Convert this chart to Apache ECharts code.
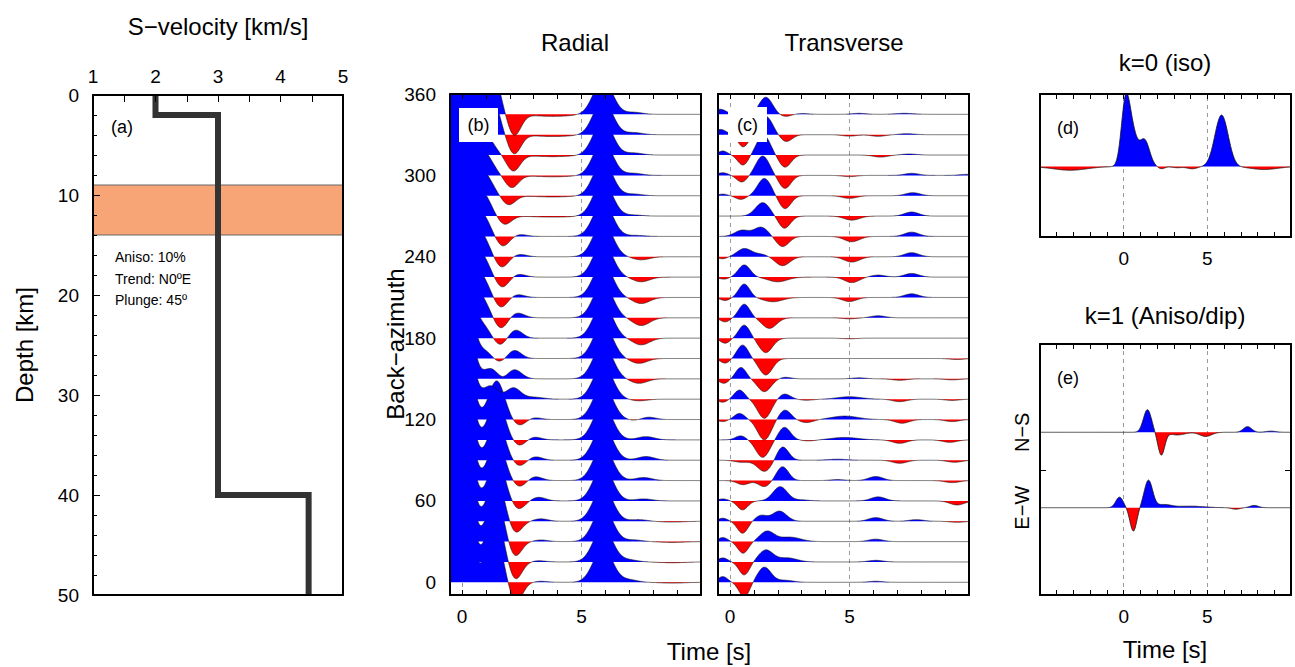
<!DOCTYPE html>
<html>
<head>
<meta charset="utf-8">
<script src="https://cdn.jsdelivr.net/npm/echarts@6.0.0/dist/echarts.min.js"></script>
<style>
html,body{margin:0;padding:0;background:#fff;}
#chart{width:1295px;height:667px;}
</style>
</head>
<body>
<div id="chart"></div>
<script>
// ================= DATA =================
// (a) S-velocity model
const layerVs = [2.0, 3.0, 4.45];
const layerTops = [0, 2, 40];
const modelBottom = 50;
const anisoLayer = [9, 14];
const anisoText = ['Aniso: 10%', 'Trend: N0ºE', 'Plunge: 45º'];

// tick labels
const depthLabels = [0, 10, 20, 30, 40, 50];
const velocityLabels = [1, 2, 3, 4, 5];
const bazLabels = [0, 60, 120, 180, 240, 300, 360];
const timeLabels = [0, 5];
const rfTimeTicks = [0, 1, 2, 3, 4, 5, 6, 7, 8, 9];
const harmTimeTicks = [-4, -3, -2, -1, 0, 1, 2, 3, 4, 5, 6, 7, 8, 9];
const componentLabels = ['E−W', 'N−S'];

// back-azimuths of the traces (deg)
const backAzimuths = [0, 15, 30, 45, 60, 75, 90, 105, 120, 135, 150, 165,
                      180, 195, 210, 225, 240, 255, 270, 285, 300, 315, 330, 345];

// picked arrivals per trace: [time (s), amplitude (trace spacings), width (s)]
const radialArrivals = [
  [[0.05,4.6,0.33],[1.35,2.5,0.33],[2.25,-1.0,0.28],[3.3,0.05,0.3],[5.9,1.7,0.4],[7.0,0.12,0.35],[8.8,-0.04,0.5]],
  [[0.05,4.6,0.33],[1.38,2.4,0.33],[2.22,-0.9,0.28],[3.2,0.06,0.3],[5.9,1.7,0.4],[7.0,0.1,0.35],[8.8,-0.04,0.5]],
  [[0.05,4.6,0.33],[1.4,2.3,0.33],[2.2,-0.78,0.28],[3.3,0.08,0.3],[5.9,1.7,0.4],[7.2,0.08,0.35],[8.8,-0.04,0.5]],
  [[0.05,4.6,0.33],[1.42,2.2,0.33],[2.22,-0.62,0.28],[3.3,0.12,0.3],[5.9,1.7,0.4],[7.4,0.08,0.35],[8.8,-0.04,0.5]],
  [[0.05,4.6,0.33],[1.45,2.1,0.33],[2.35,-0.42,0.28],[3.2,0.18,0.3],[5.9,1.7,0.4],[7.6,0.1,0.35]],
  [[0.05,4.6,0.33],[1.45,2.0,0.33],[2.4,-0.32,0.28],[3.05,0.2,0.3],[5.9,1.7,0.4],[7.6,0.15,0.35]],
  [[0.05,4.6,0.33],[1.45,2.0,0.33],[2.4,-0.3,0.28],[3.05,0.18,0.3],[5.9,1.7,0.4],[7.7,0.18,0.35]],
  [[0.05,4.6,0.33],[1.45,2.0,0.33],[2.4,-0.3,0.28],[3.0,0.15,0.3],[5.9,1.7,0.4],[7.7,0.16,0.35]],
  [[0.05,4.6,0.33],[1.45,1.9,0.33],[2.4,-0.3,0.28],[3.0,0.1,0.3],[5.9,1.7,0.4],[7.2,-0.05,0.3],[7.8,0.12,0.3]],
  [[0.05,4.6,0.33],[1.2,0.65,0.3],[2.15,0.55,0.3],[3.0,0.1,0.4],[5.9,1.7,0.4],[7.4,-0.08,0.35]],
  [[0.05,4.6,0.33],[1.2,0.5,0.3],[1.7,-0.12,0.2],[2.2,0.45,0.3],[5.9,1.7,0.4],[7.4,-0.22,0.35]],
  [[0.05,4.6,0.33],[0.95,0.35,0.3],[1.55,-0.2,0.25],[2.2,0.4,0.28],[5.9,1.7,0.4],[7.4,-0.24,0.35]],
  [[0.05,4.6,0.33],[0.85,0.6,0.3],[1.6,-0.35,0.25],[2.25,0.4,0.28],[5.9,1.7,0.4],[7.5,-0.33,0.35]],
  [[0.05,4.6,0.33],[0.82,0.9,0.33],[1.62,-0.55,0.28],[2.3,0.25,0.3],[5.9,1.7,0.4],[7.5,-0.38,0.35]],
  [[0.05,4.6,0.33],[0.82,0.95,0.33],[1.62,-0.52,0.28],[2.3,0.15,0.3],[5.9,1.7,0.4],[7.5,-0.3,0.35]],
  [[0.05,4.6,0.33],[0.82,1.0,0.33],[1.68,-0.52,0.28],[2.35,0.15,0.3],[5.9,1.7,0.4],[7.5,-0.23,0.35]],
  [[0.05,4.6,0.33],[0.82,1.0,0.33],[1.65,-0.54,0.28],[2.4,0.12,0.3],[5.9,1.7,0.4],[7.5,-0.15,0.35]],
  [[0.05,4.6,0.33],[0.85,1.0,0.33],[1.7,-0.5,0.28],[2.4,0.1,0.3],[5.9,1.7,0.4],[7.3,0.05,0.35]],
  [[0.05,4.6,0.33],[0.88,1.05,0.33],[1.78,-0.42,0.28],[3.8,-0.05,0.8],[5.9,1.7,0.4],[7.2,0.05,0.35]],
  [[0.05,4.6,0.33],[0.9,1.1,0.36],[1.95,-0.45,0.28],[3.8,-0.06,0.8],[5.9,1.7,0.4],[7.2,0.08,0.35]],
  [[0.05,4.6,0.33],[0.88,1.15,0.38],[2.08,-0.6,0.28],[3.8,-0.07,0.8],[5.9,1.7,0.4],[7.2,0.1,0.35]],
  [[0.05,4.6,0.33],[0.85,1.15,0.4],[2.15,-0.78,0.28],[3.8,-0.08,0.8],[5.9,1.7,0.4],[7.2,0.1,0.35]],
  [[0.05,4.6,0.33],[1.2,2.0,0.33],[2.18,-0.95,0.28],[3.8,-0.09,0.8],[5.9,1.7,0.4],[7.2,0.1,0.35]],
  [[0.05,4.6,0.33],[1.25,2.1,0.33],[2.18,-1.05,0.28],[3.8,-0.1,0.8],[5.9,1.7,0.4],[7.2,0.1,0.35]]
];

const transverseArrivals = [
  [[-0.3,0.28,0.2],[0.6,-0.72,0.22],[1.44,0.74,0.28],[2.3,0.1,0.35],[6.1,0.05,0.3]],
  [[-0.3,0.2,0.2],[0.6,-0.64,0.22],[1.5,0.58,0.3],[2.4,0.2,0.4],[6.1,0.08,0.3]],
  [[-0.3,0.2,0.2],[0.55,-0.57,0.22],[1.55,0.5,0.3],[2.5,0.22,0.45],[6.1,0.12,0.3]],
  [[-0.3,0.15,0.2],[0.53,-0.59,0.22],[1.3,0.28,0.25],[2.07,0.5,0.3],[6.1,0.18,0.3],[7.8,0.08,0.3],[9.5,-0.05,0.3]],
  [[-0.3,0.1,0.2],[0.53,-0.44,0.22],[2.1,0.7,0.3],[3.0,0.05,0.3],[6.2,0.2,0.3],[9.5,-0.2,0.3]],
  [[0.55,-0.2,0.25],[1.44,-0.3,0.25],[2.2,0.68,0.25],[4.5,0.05,0.3],[6.1,0.2,0.3],[9.3,-0.1,0.3]],
  [[0.5,-0.1,0.3],[1.45,-0.55,0.3],[2.2,0.67,0.25],[4.5,0.05,0.4],[7.1,-0.15,0.3],[9.4,-0.1,0.3]],
  [[0.45,0.2,0.22],[1.37,-0.86,0.28],[2.28,0.62,0.25],[3.3,-0.05,0.3],[4.8,0.12,0.55],[7.1,-0.17,0.3],[9.2,-0.12,0.3]],
  [[-0.3,-0.1,0.2],[0.4,0.3,0.22],[1.44,-1.0,0.28],[2.3,0.47,0.25],[3.2,-0.15,0.3],[4.8,0.17,0.55],[7.2,-0.18,0.3],[9.3,-0.1,0.3]],
  [[-0.3,-0.15,0.2],[0.4,0.45,0.22],[1.44,-0.94,0.28],[2.28,0.26,0.25],[3.2,-0.05,0.3],[5.0,0.12,0.5],[7.1,-0.12,0.3],[9.3,-0.06,0.3]],
  [[-0.25,-0.22,0.2],[0.46,0.56,0.22],[1.44,-0.63,0.28],[2.3,0.08,0.25],[5.4,0.05,0.3],[7.1,-0.07,0.3],[9.3,-0.05,0.3]],
  [[-0.2,-0.23,0.2],[0.53,0.66,0.23],[1.5,-0.81,0.28],[9.5,-0.05,0.3]],
  [[-0.2,-0.25,0.2],[0.6,0.64,0.23],[1.5,-0.71,0.28],[5.0,-0.03,0.3]],
  [[-0.2,-0.2,0.2],[0.6,0.67,0.23],[1.65,-0.52,0.3],[5.0,-0.05,0.3],[6.2,0.1,0.3]],
  [[-0.2,-0.15,0.2],[0.6,0.66,0.23],[1.8,-0.21,0.4],[5.0,-0.2,0.3],[7.6,0.18,0.3]],
  [[-0.25,-0.1,0.2],[0.6,0.6,0.25],[2.0,-0.23,0.4],[5.1,-0.27,0.3],[6.2,0.1,0.3],[7.6,0.18,0.3]],
  [[-0.3,-0.1,0.2],[0.6,0.4,0.3],[1.3,0.12,0.3],[2.2,-0.44,0.3],[5.1,-0.26,0.32],[7.6,0.2,0.3]],
  [[0.5,0.3,0.3],[1.3,0.45,0.3],[2.2,-0.5,0.27],[5.1,-0.26,0.32],[7.6,0.21,0.3]],
  [[1.37,0.66,0.3],[2.28,-0.6,0.25],[5.1,-0.2,0.32],[7.6,0.2,0.3]],
  [[-0.3,0.08,0.2],[0.46,-0.18,0.22],[1.44,0.85,0.28],[2.3,-0.64,0.25],[5.0,-0.13,0.3],[7.65,0.15,0.3]],
  [[-0.3,0.13,0.22],[0.5,-0.33,0.22],[1.37,0.95,0.28],[2.3,-0.64,0.25],[5.0,-0.06,0.3],[7.6,0.1,0.3],[9.9,0.05,0.3]],
  [[-0.3,0.2,0.2],[0.55,-0.5,0.22],[1.4,0.98,0.28],[2.3,-0.6,0.25],[6.3,-0.1,0.3],[7.5,0.05,0.3]],
  [[-0.4,0.26,0.25],[0.56,-0.6,0.22],[1.5,0.9,0.28],[2.35,-0.34,0.25],[5.0,-0.07,0.3],[6.2,-0.08,0.3],[7.4,0.05,0.3]],
  [[-0.4,0.25,0.25],[0.6,-0.3,0.22],[1.5,0.84,0.28],[2.3,-0.11,0.25],[3.0,0.04,0.3],[5.4,0.05,0.3],[7.3,0.05,0.4]]
];

// (d) k=0 harmonic, (e) k=1 harmonics
const isoArrivals = [[-3.2,-0.05,1.0],[0.1,0.8,0.25],[0.5,0.45,0.3],[1.25,0.36,0.3],[2.25,-0.03,0.2],
                     [3.2,-0.015,0.3],[4.1,-0.03,0.3],[5.85,0.71,0.4],[8.4,-0.04,0.8]];
const nsArrivals = [[1.42,0.3,0.24],[2.25,-0.3,0.2],[3.2,-0.035,0.45],[4.9,-0.055,0.35],[7.4,0.075,0.25],[8.8,0.015,0.3]];
const ewArrivals = [[-0.25,0.14,0.22],[0.58,-0.31,0.2],[1.48,0.36,0.25],[2.4,0.04,0.45],[4.0,0.02,0.8],[6.7,-0.02,0.25],[7.8,0.03,0.25]];

// ================= RENDERING =================
const FONT = "'Liberation Sans', Arial, Helvetica, sans-serif";
const BLUE = '#0000ff', RED = '#ff0000';
const DT = 0.02;

function synth(arrivals, t) {
  let s = 0;
  for (const [c, a, w] of arrivals) { const d = (t - c) / w; s += a * Math.exp(-0.5 * d * d); }
  return s;
}

function wiggleRenderer(arrivalsList, bases, scale, tStart, tEnd, lw) {
  return function (params, api) {
    const idx = api.value(2);
    const arr = arrivalsList[idx];
    const base = bases[idx];
    const cs = params.coordSys;
    const pt = (t, v) => api.coord([t, base + scale * v]);
    const children = [];
    const line = [];
    const n = Math.round((tEnd - tStart) / DT);
    let run = null, sgn = 0, pT = 0, pV = 0;
    const closeRun = (tc) => {
      run.push(pt(tc, 0));
      children.push({ type: 'polygon', shape: { points: run }, style: { fill: sgn > 0 ? BLUE : RED }, silent: true });
    };
    for (let k = 0; k <= n; k++) {
      const t = tStart + k * DT;
      const v = synth(arr, t);
      const s = v >= 0 ? 1 : -1;
      if (k === 0) { sgn = s; run = [pt(t, 0)]; }
      else if (s !== sgn) {
        const tc = pT + (t - pT) * (pV / (pV - v));
        closeRun(tc);
        sgn = s; run = [pt(tc, 0)];
      }
      run.push(pt(t, v));
      line.push(pt(t, v));
      pT = t; pV = v;
    }
    closeRun(pT);
    children.push({ type: 'polyline', shape: { points: line }, style: { stroke: '#111', lineWidth: lw, fill: null }, silent: true });
    return {
      type: 'group', children,
      clipPath: { type: 'rect', shape: { x: cs.x, y: cs.y, width: cs.width, height: cs.height } }
    };
  };
}

function axisBase(extra) {
  return Object.assign({
    type: 'value', z: 10,
    axisLine: { show: true, onZero: false, lineStyle: { color: '#000', width: 2 } },
    axisTick: { show: false }, axisLabel: { show: false },
    splitLine: { show: false }, minorTick: { show: false }, minorSplitLine: { show: false }
  }, extra);
}
const tickStyle = (vals, len) => ({ show: true, inside: true, length: len || 5, customValues: vals, lineStyle: { color: '#000', width: 1 } });
const labelStyle = (vals, margin, extra) => Object.assign({ show: true, customValues: vals, color: '#000', fontSize: 19, fontFamily: FONT, margin: margin }, extra || {});

const grids = [
  { left: 93, top: 95, width: 250, height: 500 },
  { left: 450, top: 94, width: 251, height: 501 },
  { left: 718, top: 94, width: 251, height: 501 },
  { left: 1040, top: 94, width: 251, height: 143 },
  { left: 1040, top: 344, width: 251, height: 251 }
];

// axis index of panel p (0..4) is 2*p for both the main x and y axes
const bazMin = -9.36, bazMax = 360;
const xAxes = [
  axisBase({ gridIndex: 0, position: 'top', min: 1, max: 5, interval: 1,
    axisTick: { show: true, inside: true, length: 7, lineStyle: { color: '#000' } },
    minorTick: { show: true, splitNumber: 2, length: 7, lineStyle: { color: '#000' } },
    axisLabel: labelStyle(velocityLabels, 9) }),
  axisBase({ gridIndex: 0, position: 'bottom', min: 1, max: 5 }),
  axisBase({ gridIndex: 1, position: 'bottom', min: -0.5, max: 10, axisTick: tickStyle(rfTimeTicks), axisLabel: labelStyle(timeLabels, 12) }),
  axisBase({ gridIndex: 1, position: 'top', min: -0.5, max: 10, axisTick: tickStyle(rfTimeTicks) }),
  axisBase({ gridIndex: 2, position: 'bottom', min: -0.5, max: 10, axisTick: tickStyle(rfTimeTicks), axisLabel: labelStyle(timeLabels, 12) }),
  axisBase({ gridIndex: 2, position: 'top', min: -0.5, max: 10, axisTick: tickStyle(rfTimeTicks) }),
  axisBase({ gridIndex: 3, position: 'bottom', min: -5, max: 10, axisTick: tickStyle(harmTimeTicks), axisLabel: labelStyle(timeLabels, 12) }),
  axisBase({ gridIndex: 3, position: 'top', min: -5, max: 10, axisTick: tickStyle(harmTimeTicks) }),
  axisBase({ gridIndex: 4, position: 'bottom', min: -5, max: 10, axisTick: tickStyle(harmTimeTicks), axisLabel: labelStyle(timeLabels, 12) }),
  axisBase({ gridIndex: 4, position: 'top', min: -5, max: 10, axisTick: tickStyle(harmTimeTicks) })
];
const yAxes = [
  axisBase({ gridIndex: 0, position: 'left', inverse: true, min: 0, max: modelBottom, interval: 10,
    axisTick: { show: true, inside: true, length: 7, lineStyle: { color: '#000' } },
    minorTick: { show: true, splitNumber: 5, length: 4, lineStyle: { color: '#000' } },
    axisLabel: labelStyle(depthLabels, 14) }),
  axisBase({ gridIndex: 0, position: 'right', inverse: true, min: 0, max: modelBottom }),
  axisBase({ gridIndex: 1, position: 'left', min: bazMin, max: bazMax, axisLabel: labelStyle(bazLabels, 14) }),
  axisBase({ gridIndex: 1, position: 'right', min: bazMin, max: bazMax }),
  axisBase({ gridIndex: 2, position: 'left', min: bazMin, max: bazMax }),
  axisBase({ gridIndex: 2, position: 'right', min: bazMin, max: bazMax }),
  axisBase({ gridIndex: 3, position: 'left', min: -0.97, max: 1 }),
  axisBase({ gridIndex: 3, position: 'right', min: -0.97, max: 1 }),
  axisBase({ gridIndex: 4, position: 'left', min: -0.158, max: 3.171, axisTick: tickStyle([1.5], 6),
    axisLabel: labelStyle([1, 2], 8, { rotate: 90, fontSize: 20, formatter: v => componentLabels[Math.round(v) - 1] }) }),
  axisBase({ gridIndex: 4, position: 'right', min: -0.158, max: 3.171, axisTick: tickStyle([1.5], 6) })
];

// step profile built from layer arrays
const stepData = [];
layerVs.forEach((v, i) => {
  const top = layerTops[i];
  const bot = i + 1 < layerTops.length ? layerTops[i + 1] : modelBottom;
  stepData.push([v, top], [v, bot]);
});

function dashedSeries(panel) {
  return {
    type: 'line', xAxisIndex: 2 * panel, yAxisIndex: 2 * panel, data: [], z: 1, silent: true,
    markLine: { silent: true, z: 1, symbol: ['none', 'none'], label: { show: false },
      lineStyle: { color: '#9a9a9a', type: [4, 4], width: 1 },
      data: timeLabels.map(t => ({ xAxis: t })) }
  };
}
function wiggleSeries(panel, arrivals, bases, scale, t0, t1, lw) {
  // bottom trace drawn first, top trace last
  const data = bases.map((b, i) => [t0, b, i]);
  return {
    type: 'custom', xAxisIndex: 2 * panel, yAxisIndex: 2 * panel, clip: true, z: 6, silent: true,
    dimensions: ['t', 'base', 'idx'], encode: { x: 0, y: 1 },
    renderItem: wiggleRenderer(arrivals, bases, scale, t0, t1, lw), data: data
  };
}

const traceSpacing = 15; // degrees of back-azimuth per unit amplitude
const series = [
  { type: 'line', xAxisIndex: 0, yAxisIndex: 0, data: [], z: 1, silent: true,
    markArea: { silent: true, z: 1, itemStyle: { color: '#f7a476', borderColor: '#666', borderWidth: 1 },
      data: [[{ yAxis: anisoLayer[0] }, { yAxis: anisoLayer[1] }]] } },
  { type: 'line', xAxisIndex: 0, yAxisIndex: 0, data: stepData, symbol: 'none', z: 6, silent: true,
    lineStyle: { color: '#333', width: 6, join: 'miter', cap: 'butt' } },
  dashedSeries(1), wiggleSeries(1, radialArrivals, backAzimuths, traceSpacing, -0.5, 10, 0.6),
  dashedSeries(2), wiggleSeries(2, transverseArrivals, backAzimuths, traceSpacing, -0.5, 10, 0.6),
  dashedSeries(3), wiggleSeries(3, [isoArrivals], [0], 1, -5, 10, 0.8),
  dashedSeries(4), wiggleSeries(4, [ewArrivals, nsArrivals], [1, 2], 1, -5, 10, 0.8)
];

const txt = (text, x, y, size, extra) => Object.assign({
  type: 'text', x: x, y: y, z: 100, silent: true,
  style: { text: text, fill: '#000', font: size + 'px ' + FONT, textAlign: 'center', textVerticalAlign: 'middle' }
}, extra || {});
const labelBox = (label, x, y, w, h) => ({
  type: 'group', z: 100, children: [
    { type: 'rect', z: 100, shape: { x: x, y: y, width: w, height: h }, style: { fill: '#fff' } },
    txt(label, x + w / 2, y + h / 2, 18)
  ]
});

const graphics = [
  txt('S−velocity [km/s]', 218, 26, 24),
  txt('Depth [km]', 24, 345, 24, { rotation: Math.PI / 2 }),
  txt('Radial', 575, 42, 24),
  txt('Transverse', 844, 42, 24),
  txt('Back−azimuth', 395, 344, 24, { rotation: Math.PI / 2 }),
  txt('Time [s]', 709, 651, 24),
  txt('k=0 (iso)', 1165, 62, 24),
  txt('k=1 (Aniso/dip)', 1165, 315, 24),
  txt('Time [s]', 1165, 649, 24),
  txt('(a)', 122, 127, 18),
  txt('(d)', 1068, 128, 18),
  txt('(e)', 1068, 378, 18),
  labelBox('(b)', 459, 108, 39, 34),
  labelBox('(c)', 728, 107, 39, 35)
];
anisoText.forEach((s, i) => {
  graphics.push(txt(s, 115, 257 + i * 21.5, 14, { style: { text: s, fill: '#000', font: '14px ' + FONT, textAlign: 'left', textVerticalAlign: 'middle' } }));
});

const chart = echarts.init(document.getElementById('chart'), null, { renderer: 'svg', width: 1295, height: 667 });
chart.setOption({
  animation: false,
  backgroundColor: '#fff',
  textStyle: { fontFamily: FONT },
  grid: grids,
  xAxis: xAxes,
  yAxis: yAxes,
  series: series,
  graphic: graphics
});
</script>
</body>
</html>
